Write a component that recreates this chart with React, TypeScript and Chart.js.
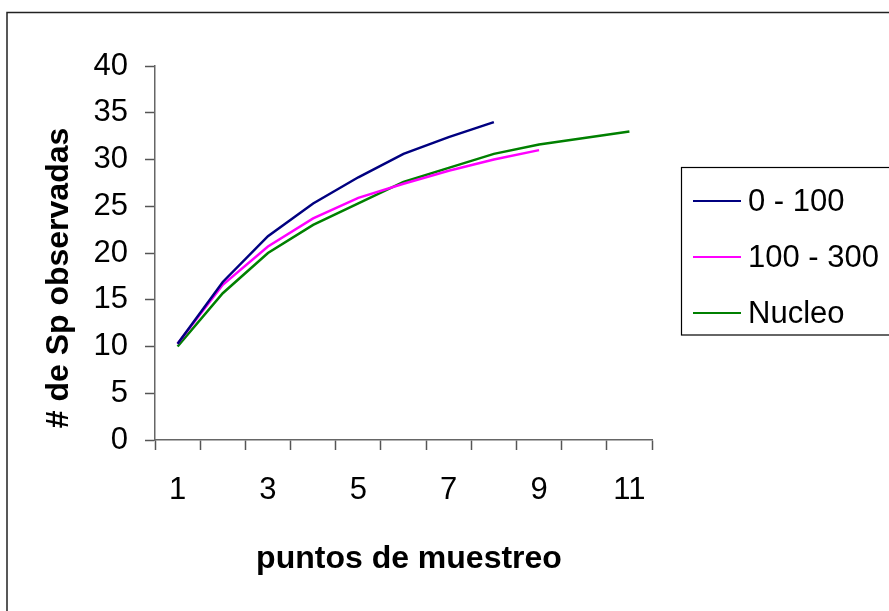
import React, { useEffect, useRef } from "react";
import { Chart, registerables } from "chart.js";

Chart.register(...registerables);

const categories = ["1", "2", "3", "4", "5", "6", "7", "8", "9", "10", "11"];
const serie0a100 = [10.3, 16.9, 21.8, 25.3, 28.1, 30.6, 32.4, 34.0];
const serie100a300 = [10.3, 16.6, 20.7, 23.7, 25.9, 27.4, 28.8, 30.0, 31.0];
const serieNucleo = [10.0, 15.7, 20.0, 23.0, 25.3, 27.6, 29.1, 30.6, 31.6, 32.3, 33.0];
const seriesLabels = ["0 - 100", "100 - 300", "Nucleo"];
const seriesColors = ["#000080", "#FF00FF", "#008000"];
const yTicks = [0, 5, 10, 15, 20, 25, 30, 35, 40];
const xTitle = "puntos de muestreo";
const yTitle = "# de Sp observadas";

const FONT = "'Liberation Sans', Arial, sans-serif";

const decorPlugin = {
  id: "decor",
  afterDraw(chart: any) {
    const ctx = chart.ctx;
    ctx.save();
    // outer frame
    ctx.strokeStyle = "#222";
    ctx.lineWidth = 1.5;
    ctx.beginPath();
    ctx.moveTo(7, 640);
    ctx.lineTo(7, 12.5);
    ctx.lineTo(900, 12.5);
    ctx.stroke();

    // axis titles
    ctx.fillStyle = "#000";
    ctx.font = `bold 32px ${FONT}`;
    ctx.textAlign = "center";
    ctx.textBaseline = "alphabetic";
    ctx.fillText(xTitle, 409, 568);
    ctx.save();
    ctx.translate(68, 278);
    ctx.rotate(-Math.PI / 2);
    ctx.fillText(yTitle, 0, 0);
    ctx.restore();

    // legend
    ctx.strokeStyle = "#000";
    ctx.lineWidth = 1.2;
    ctx.strokeRect(681.5, 167.5, 260, 167.5);
    ctx.font = `31px ${FONT}`;
    ctx.textAlign = "left";
    ctx.textBaseline = "middle";
    const ys = [201, 257, 313];
    chart.data.datasets.forEach((ds: any, i: number) => {
      ctx.strokeStyle = ds.borderColor;
      ctx.lineWidth = 2;
      ctx.beginPath();
      ctx.moveTo(693, ys[i]);
      ctx.lineTo(741, ys[i]);
      ctx.stroke();
      ctx.fillStyle = "#000";
      ctx.fillText(ds.label, 748, ys[i] + 1);
    });
    ctx.restore();
  },
};

export default function App() {
  const ref = useRef<HTMLCanvasElement | null>(null);
  useEffect(() => {
    if (!ref.current) return;
    const chart = new Chart(ref.current, {
      type: "line",
      data: {
        labels: categories,
        datasets: [serie0a100, serie100a300, serieNucleo].map((d, i) => ({
          label: seriesLabels[i],
          data: d,
          borderColor: seriesColors[i],
          backgroundColor: seriesColors[i],
          borderWidth: 2.5,
          pointRadius: 0,
          tension: 0,
          fill: false,
        })),
      },
      options: {
        animation: false,
        responsive: true,
        maintainAspectRatio: false,
        layout: { padding: { left: 0, top: 66, right: 237, bottom: 0 } },
        plugins: { legend: { display: false }, tooltip: { enabled: false } },
        scales: {
          x: {
            type: "category",
            offset: true,
            afterFit: (s: any) => {
              s.height = 171;
            },
            grid: {
              offset: true,
              drawOnChartArea: false,
              drawTicks: true,
              tickLength: 10,
              tickColor: "#555",
              tickWidth: 1.5,
            },
            border: { color: "#666", width: 1.5 },
            ticks: {
              autoSkip: false,
              maxRotation: 0,
              padding: 22,
              color: "#000",
              font: { family: FONT, size: 31 },
              callback: (_v: any, idx: number) => (idx % 2 === 0 ? categories[idx] : ""),
            },
          },
          y: {
            min: 0,
            max: 40,
            afterFit: (s: any) => {
              s.width = 155;
            },
            afterBuildTicks: (s: any) => {
              s.ticks = yTicks.map((v) => ({ value: v }));
            },
            grid: {
              drawOnChartArea: false,
              drawTicks: true,
              tickLength: 10,
              tickColor: "#555",
              tickWidth: 1.5,
            },
            border: { color: "#666", width: 1.5 },
            ticks: {
              padding: 17,
              color: "#000",
              font: { family: FONT, size: 31 },
            },
          },
        },
      },
      plugins: [decorPlugin],
    });
    return () => chart.destroy();
  }, []);
  return (
    <div style={{ position: "fixed", left: 0, top: 0, width: 889, height: 611, background: "#fff" }}>
      <canvas ref={ref} />
    </div>
  );
}
